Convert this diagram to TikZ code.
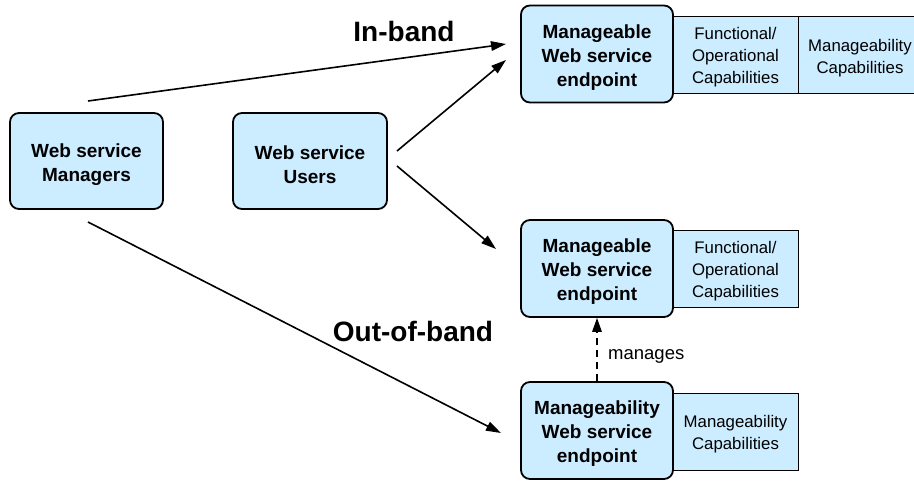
\documentclass[tikz,border=0pt]{standalone}
\usepackage{fontspec}
\setmainfont{Liberation Sans}
\usetikzlibrary{arrows.meta,calc}
\definecolor{boxblue}{RGB}{204,236,255}
\tikzset{
  x=1pt,y=-1pt,
  endbox/.style={draw=black,line width=1.8pt,fill=boxblue,rounded corners=9pt,
    minimum width=152pt,minimum height=97pt,inner sep=0pt},
  endtxt/.style={align=center,inner sep=0pt,
    font=\fontsize{19}{24}\selectfont\bfseries},
  capbox/.style={draw=black,line width=0.9pt,fill=boxblue,inner sep=0pt,
    minimum width=125pt,minimum height=77pt},
  captxt/.style={align=center,inner sep=0pt,font=\fontsize{16.8}{22}\selectfont},
  conn/.style={line width=1.6pt,-{Triangle[length=15pt,width=9.5pt]}},
  bandlbl/.style={font=\fontsize{28}{30}\selectfont\bfseries}
}
\begin{document}
\begin{tikzpicture}
\useasboundingbox (0,0) rectangle (914,480);
% capability boxes
\node[capbox] (fun1) at (735.5,54.5) {};
\node[captxt] (fun1t) at ($(fun1)+(0,3)$) {Functional/\\Operational\\Capabilities};
\node[capbox,minimum width=120pt] (man1) at (858,54.5) {};
\node[captxt] (man1t) at ($(man1)+(2,4)$) {Manageability\\Capabilities};
\node[capbox] (fun2) at (735.5,268.5) {};
\node[captxt] (fun2t) at ($(fun2)+(0,3)$) {Functional/\\Operational\\Capabilities};
\node[capbox] (man3) at (735.5,431.5) {};
\node[captxt] (man3t) at ($(man3)+(0,3)$) {Manageability\\Capabilities};
% endpoints
\node[endbox] (ep1) at (597,54) {};
\node[endtxt] (ep1t) at ($(ep1)+(0,3.5)$) {Manageable\\Web service\\endpoint};
\node[endbox] (ep2) at (597,268.5) {};
\node[endtxt] (ep2t) at ($(ep2)+(0,3.5)$) {Manageable\\Web service\\endpoint};
\node[endbox] (ep3) at (597,430.5) {};
\node[endtxt] (ep3t) at ($(ep3)+(0,3.5)$) {Manageability\\Web service\\endpoint};
% left boxes
\node[endbox,minimum width=153pt,minimum height=96pt] (mgr) at (86.5,161) {};
\node[endtxt] (mgrt) at ($(mgr)+(0,3.5)$) {Web service\\Managers};
\node[endbox,minimum width=154pt,minimum height=96pt] (usr) at (310,161) {};
\node[endtxt] (usrt) at ($(usr)+(0,3.5)$) {Web service\\Users};
% connector end points
\coordinate (a1) at (88,101);
\coordinate (b1) at (506,44);
\coordinate (a2) at (397,151);
\coordinate (b2) at (506,60);
\coordinate (a3) at (397,166);
\coordinate (b3) at (496,249);
\coordinate (a4) at (88,222);
\coordinate (b4) at (501,433);
\draw[conn] (a1) -- (b1);
\draw[conn] (a2) -- (b2);
\draw[conn] (a3) -- (b3);
\draw[conn] (a4) -- (b4);
\draw[line width=1.6pt,dash pattern=on 7pt off 5pt,-{Triangle[length=14pt,width=9.5pt]}] (ep3.north) -- (ep2.south);
\node[font=\fontsize{18.5}{20}\selectfont,anchor=west,inner sep=0pt] (mlbl) at (608,356) {manages};
\node[bandlbl] (inb) at (404,31) {In-band};
\node[bandlbl] (oob) at (413,331) {Out-of-band};
\end{tikzpicture}
\end{document}
